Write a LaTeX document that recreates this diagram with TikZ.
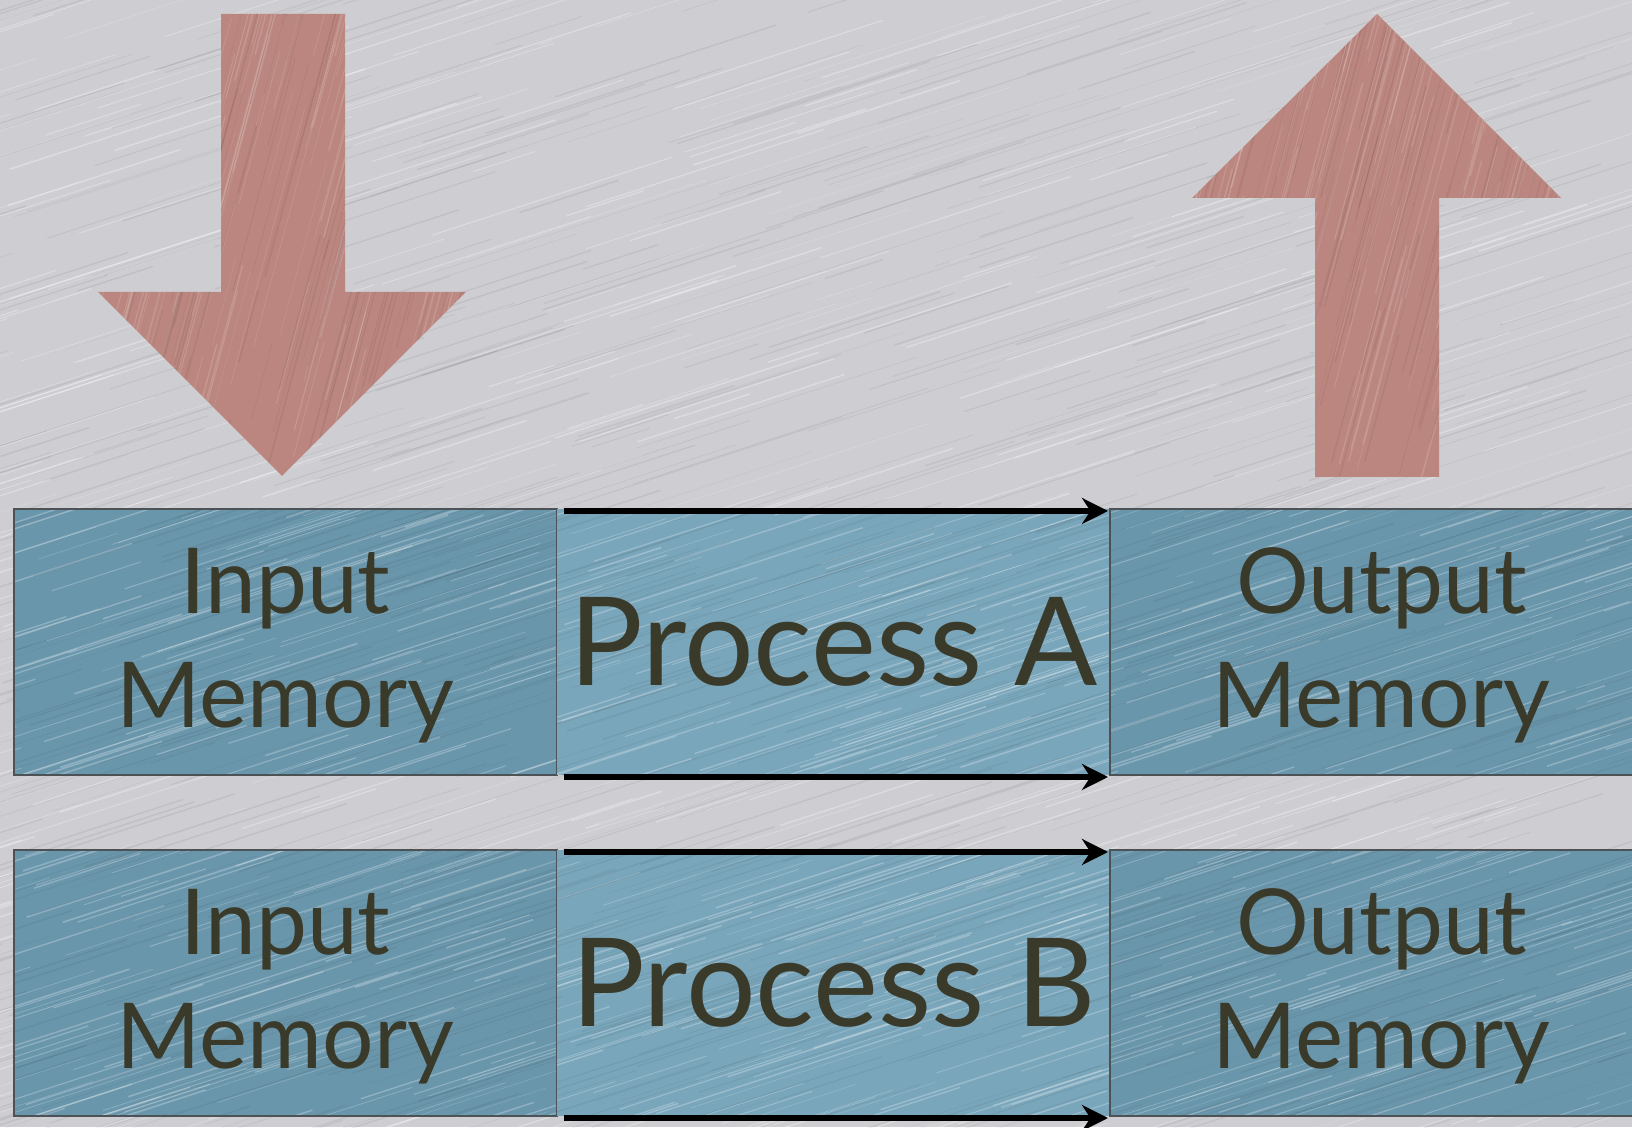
\documentclass[tikz,border=0pt]{standalone}
\usepackage{fontspec}
\setmainfont{Lato}
\usetikzlibrary{arrows.meta,positioning}

\definecolor{metal}{RGB}{205,205,210}
\definecolor{memblue}{RGB}{106,150,172}
\definecolor{procblue}{RGB}{122,166,187}
\definecolor{rose}{RGB}{187,134,127}
\definecolor{ink}{RGB}{58,58,42}
\definecolor{rim}{RGB}{76,82,86}

\tikzset{
  sheen/.store in=\sheenop, sheen=0.25,
  % stries du metal brosse
  brushed/.style n args={4}{path picture={
    \foreach \k in {1,...,#1}{
      \pgfmathsetmacro{\dx}{rand*#2-0.3*#2}
      \pgfmathsetmacro{\dy}{rand*#3}
      \pgfmathsetmacro{\len}{60+rnd*260}
      \pgfmathsetmacro{\lw}{0.3+rnd*1.4}
      \draw[white,opacity=\sheenop,line width=\lw]
        ([shift={(\dx,\dy)}]path picture bounding box.center) -- ++(#4:\len);
      \pgfmathsetmacro{\dx}{rand*#2-0.3*#2}
      \pgfmathsetmacro{\dy}{rand*#3}
      \draw[black,opacity=0.06,line width=\lw]
        ([shift={(\dx,\dy)}]path picture bounding box.center) -- ++(#4:\len);
    }}},
  memblock/.style={draw=rim,line width=2.5pt,fill=memblue,text=ink,
    minimum width=543,minimum height=266,inner sep=0pt,outer sep=0pt,
    align=center,font=\fontsize{91}{114}\selectfont,text depth=8pt,
    brushed={130}{330}{190}{18}},
  procblock/.style={fill=procblue,text=ink,
    minimum width=553,minimum height=266,inner sep=0pt,outer sep=0pt,
    font=\fontsize{123}{130}\selectfont,
    brushed={130}{330}{190}{18}},
  bigarrow/.style={fill=rose,sheen=0.14,brushed={170}{260}{260}{75}},
  flow/.style={line width=5.5pt,-{Stealth[length=26pt,width=26pt]}}
}

\begin{document}
\begin{tikzpicture}[x=1pt,y=1pt]
  \pgfmathsetseed{2718}
  \useasboundingbox (0,0) rectangle (1632,1127);
  \clip (0,0) rectangle (1632,1127);

  % Le fond
  \path[fill=metal,sheen=0.3,brushed={800}{1000}{700}{18}] (0,0) rectangle (1632,1127);

  % Les grandes fleches
  \path[bigarrow] (221,1113) -- (345,1113) -- (345,835) -- (466,835)
    -- (282,651) -- (98,835) -- (221,835) -- cycle;
  \path[bigarrow] (1377,1113) -- (1561,929) -- (1439,929) -- (1439,650)
    -- (1315,650) -- (1315,929) -- (1192,929) -- cycle;

  % Premiere rangee
  \node[memblock,anchor=south west] (inA) at (14,352) {Input\\Memory};
  \node[procblock,right=0pt of inA] (procA) {Process A};
  \node[memblock,right=0pt of procA] (outA) {Output\\Memory};

  % Deuxieme rangee
  \node[memblock,below=75pt of inA] (inB) {Input\\Memory};
  \node[procblock,right=0pt of inB] (procB) {Process B};
  \node[memblock,right=0pt of procB] (outB) {Output\\Memory};

  % Les flux
  \draw[flow] ([shift={(7,-2)}]procA.north west) -- ([shift={(-2,-2)}]procA.north east);
  \draw[flow] ([shift={(7,-2)}]procA.south west) -- ([shift={(-2,-2)}]procA.south east);
  \draw[flow] ([shift={(7,-2)}]procB.north west) -- ([shift={(-2,-2)}]procB.north east);
  \draw[flow] ([shift={(7,-2)}]procB.south west) -- ([shift={(-2,-2)}]procB.south east);
\end{tikzpicture}
\end{document}
